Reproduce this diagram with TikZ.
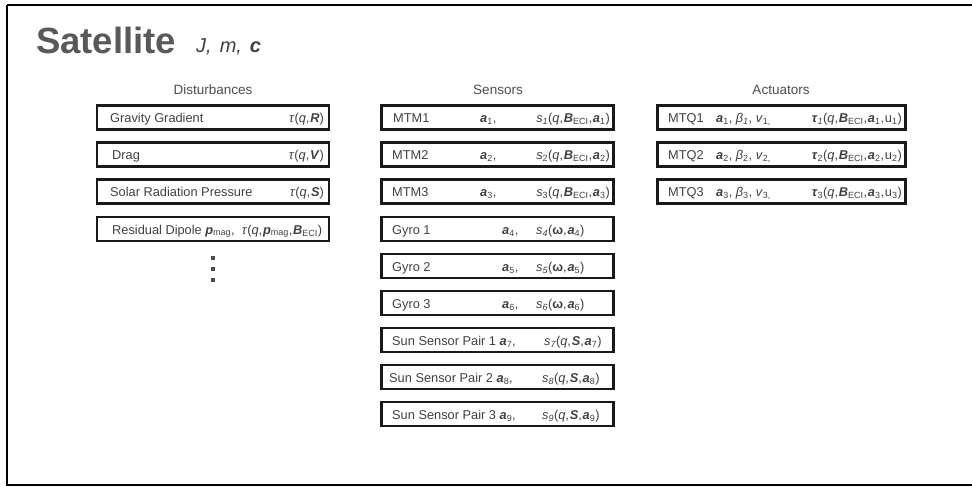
\documentclass[tikz,border=0pt]{standalone}
\usepackage{fontspec}
\setmainfont{Liberation Sans}
\begin{document}
\begin{tikzpicture}[x=1pt,y=-1pt,
  frame/.style={draw=black,line width=2pt},
  bx/.style={draw=black!90,line width=2.6pt,minimum height=24pt,inner sep=0pt},
  dbox/.style={bx,minimum width=232pt},
  sbox/.style={bx,minimum width=232pt},
  abox/.style={bx,minimum width=248pt},
  txt/.style={inner sep=0pt,anchor=base west,text=black!75,font=\fontsize{12.8}{15}\selectfont},
  rtxt/.style={txt,anchor=base east},
  head/.style={inner sep=0pt,anchor=base,text=black!70,font=\fontsize{13.5}{16}\selectfont},
  dot/.style={fill=black!70,draw=none,minimum size=3.2pt,inner sep=0pt,rectangle}
]
\newcommand\bv[1]{\textbf{\textit{#1}}}
\newcommand\sub[1]{\textsubscript{#1}}
\newcommand\cm{,\kern0.8pt}
\useasboundingbox (0,0) rectangle (972,487);
\draw[frame] (7,5) -- (7,485) -- (980,485);
\draw[frame] (7,5) -- (980,5);

% title
\node[inner sep=0pt,anchor=base west,text=black!65,font=\fontsize{36.5}{38}\selectfont\bfseries] (title) at (36,54) {Satellite};
\node[inner sep=0pt,anchor=base west,text=black!75,font=\fontsize{20}{22}\selectfont\itshape] (params) at (196,53) {J,\kern8pt m,\kern8pt\textbf{c}};

% headers
\node[head] (hd) at (213,94) {Disturbances};
\node[head] (hs) at (498,94) {Sensors};
\node[head] (ha) at (781,94) {Actuators};

% disturbances
\node[dbox] (gg) at (213,117.5) {};
\node[txt] (ggl) at (110,122) {Gravity Gradient};
\node[rtxt] (ggr) at (324,122) {\textit{τ}(\textit{q}\cm\bv{R})};
\node[dbox] (dr) at (213,154.5) {};
\node[txt] (drl) at (112,159) {Drag};
\node[rtxt] (drr) at (324,159) {\textit{τ}(\textit{q}\cm\bv{V})};
\node[dbox] (srp) at (213,191.5) {};
\node[txt] (srpl) at (110,196) {Solar Radiation Pressure};
\node[rtxt] (srpr) at (324,196) {\textit{τ}(\textit{q}\cm\bv{S})};
\node[dbox] (rd) at (213,229) {};
\node[txt] (rdl) at (112,234) {Residual Dipole \bv{p}\sub{mag},\ \ \textit{τ}(\textit{q}\cm\bv{p}\sub{mag}\cm\bv{B}\sub{ECI})};
\node[dot] (d1) at (213,258) {};
\node[dot] (d2) at (213,269) {};
\node[dot] (d3) at (213,280) {};

% sensors
\node[sbox] (m1) at (497.5,117.5) {};
\node[txt] at (393,122) {MTM1};
\node[txt] at (480,122) {\bv{a}\sub{1},};
\node[rtxt] at (610,122) {\textit{s\sub{1}}(\textit{q}\cm\bv{B}\sub{ECI}\cm\bv{a}\sub{1})};
\node[sbox] (m2) at (497.5,154.5) {};
\node[txt] at (392,159) {MTM2};
\node[txt] at (480,159) {\bv{a}\sub{2},};
\node[rtxt] at (610,159) {\textit{s}\sub{2}(\textit{q}\cm\bv{B}\sub{ECI}\cm\bv{a}\sub{2})};
\node[sbox] (m3) at (497.5,191.5) {};
\node[txt] at (392,196) {MTM3};
\node[txt] at (480,196) {\bv{a}\sub{3},};
\node[rtxt] at (610,196) {\textit{s}\sub{3}(\textit{q}\cm\bv{B}\sub{ECI}\cm\bv{a}\sub{3})};
\node[sbox] (g1) at (497.5,229) {};
\node[txt] at (392,234) {Gyro 1};
\node[txt] at (502,234) {\bv{a}\sub{4},};
\node[txt] at (536,234) {\textit{s\sub{4}}(\textbf{ω}\cm\bv{a}\sub{4})};
\node[sbox] (g2) at (497.5,266) {};
\node[txt] at (392,271) {Gyro 2};
\node[txt] at (502,271) {\bv{a}\sub{5},};
\node[txt] at (536,271) {\textit{s\sub{5}}(\textbf{ω}\cm\bv{a}\sub{5})};
\node[sbox] (g3) at (497.5,303) {};
\node[txt] at (392,308) {Gyro 3};
\node[txt] at (502,308) {\bv{a}\sub{6},};
\node[txt] at (536,308) {\textit{s\sub{6}}(\textbf{ω}\cm\bv{a}\sub{6})};
\node[sbox] (p1) at (497.5,340) {};
\node[txt] at (392,345) {Sun Sensor Pair 1 \bv{a}\sub{7},};
\node[txt] at (544,345) {\textit{s\sub{7}}(\textit{q}\cm\bv{S}\cm\bv{a}\sub{7})};
\node[sbox] (p2) at (497.5,377) {};
\node[txt] at (389,382) {Sun Sensor Pair 2\ \bv{a}\sub{8},};
\node[txt] at (542,382) {\textit{s\sub{8}}(\textit{q}\cm\bv{S}\cm\bv{a}\sub{8})};
\node[sbox] (p3) at (497.5,414) {};
\node[txt] at (392,419) {Sun Sensor Pair 3 \bv{a}\sub{9},};
\node[txt] at (542,419) {\textit{s\sub{9}}(\textit{q}\cm\bv{S}\cm\bv{a}\sub{9})};

% actuators
\node[abox] (q1) at (781.5,117.5) {};
\node[txt] at (668,122) {MTQ1};
\node[txt] at (716,122) {\bv{a}\sub{1}, \textit{β\sub{1}}, \textit{v}\sub{1,}};
\node[rtxt] at (902,122) {\bv{τ}\sub{\textit{1}}(\textit{q}\cm\bv{B}\sub{ECI}\cm\bv{a}\sub{1}\cm u\sub{1})};
\node[abox] (q2) at (781.5,154.5) {};
\node[txt] at (668,159) {MTQ2};
\node[txt] at (716,159) {\bv{a}\sub{2}, \textit{β}\sub{2}, \textit{v}\sub{2,}};
\node[rtxt] at (902,159) {\bv{τ}\sub{2}(\textit{q}\cm\bv{B}\sub{ECI}\cm\bv{a}\sub{2}\cm u\sub{2})};
\node[abox] (q3) at (781.5,191.5) {};
\node[txt] at (668,196) {MTQ3};
\node[txt] at (716,196) {\bv{a}\sub{3}, \textit{β}\sub{3}, \textit{v}\sub{3,}};
\node[rtxt] at (902,196) {\bv{τ}\sub{3}(\textit{q}\cm\bv{B}\sub{ECI}\cm\bv{a}\sub{3}\cm u\sub{3})};
\end{tikzpicture}
\end{document}
